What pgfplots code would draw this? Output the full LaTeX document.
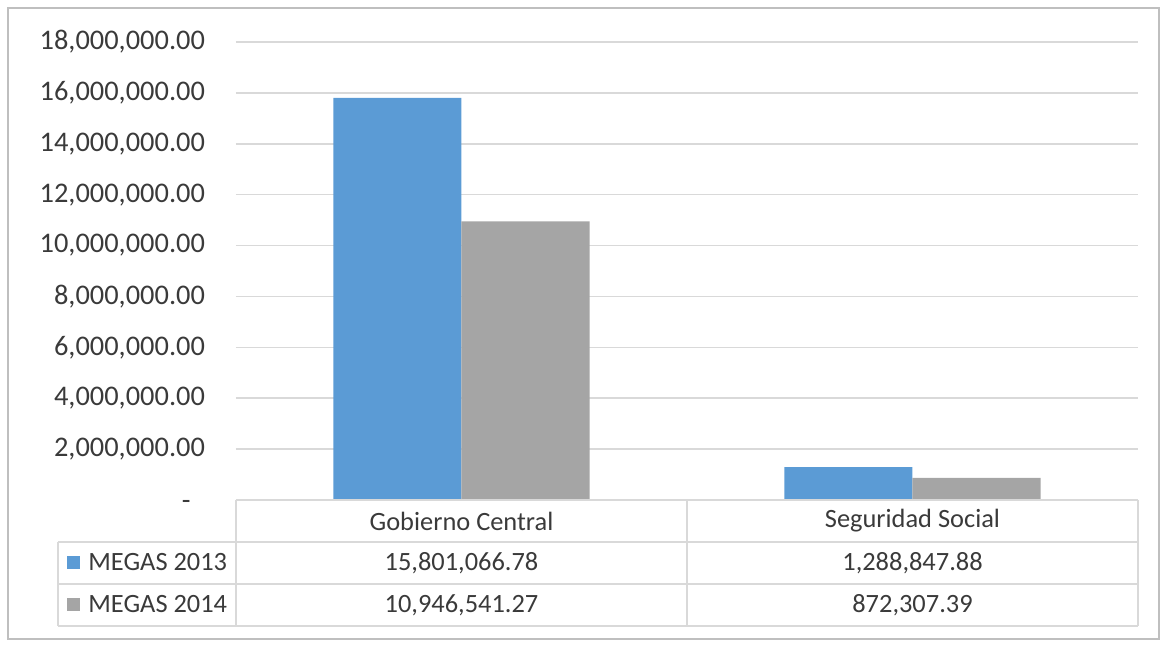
\documentclass[border=0pt]{standalone}
\usepackage{pgfplots}
\pgfplotsset{compat=1.18}
\usepackage{fontspec}
\setmainfont{Carlito}
\definecolor{cblue}{HTML}{5B9BD5}
\definecolor{cgray}{HTML}{A5A5A5}
\definecolor{gridc}{HTML}{D9D9D9}
\definecolor{txt}{HTML}{3A3A3A}
\definecolor{frame}{HTML}{BFBFBF}
\begin{document}
\begin{tikzpicture}[x=0.5pt,y=0.5pt,font=\fontsize{13.2}{15}\selectfont,text=txt]
\useasboundingbox (0,0) rectangle (1164,646);
\draw[frame,line width=1pt] (8,7) rectangle (1159,638);
\begin{axis}[
  at={(118pt,73pt)}, anchor=south west,
  scale only axis, width=451pt, height=229pt,
  xmin=-0.5, xmax=1.5, ymin=0, ymax=18000000,
  ybar=0pt, bar width=0.284,
  axis line style={draw=none},
  xtick=\empty,
  scaled y ticks=false,
  ytick={0,2000000,4000000,6000000,8000000,10000000,12000000,14000000,16000000,18000000},
  yticklabels={{-\phantom{0}},{2,000,000.00},{4,000,000.00},{6,000,000.00},{8,000,000.00},{10,000,000.00},{12,000,000.00},{14,000,000.00},{16,000,000.00},{18,000,000.00}},
  yticklabel style={anchor=east, xshift=-12pt, text=txt, font=\fontsize{14.2}{16}\selectfont},
  major tick length=0pt,
  ymajorgrids, grid style={gridc, line width=0.8pt},
  clip=false,
]
\addplot[fill=cblue, draw=none] coordinates {(0,15801066.78) (1,1288847.88)};
\addplot[fill=cgray, draw=none] coordinates {(0,10946541.27) (1,872307.39)};
\end{axis}
% data table
\begin{scope}[gridc, line width=0.8pt]
\draw (236,146) -- (1138,146);
\draw (58,104) -- (1138,104);
\draw (58,62) -- (1138,62);
\draw (58,20) -- (1138,20);
\draw (58,20) -- (58,104);
\draw (236,20) -- (236,146);
\draw (687,20) -- (687,146);
\draw (1138,20) -- (1138,146);
\end{scope}
\node at (461.5,125) {Gobierno Central};
\node at (912.5,125) {Seguridad Social};
\node at (461.5,83) {15,801,066.78};
\node at (912.5,83) {1,288,847.88};
\node at (461.5,41) {10,946,541.27};
\node at (912.5,41) {872,307.39};
\fill[cblue] (67,77) rectangle (80,90);
\node[anchor=west, inner sep=0pt] at (88,84) {MEGAS 2013};
\fill[cgray] (67,35) rectangle (80,48);
\node[anchor=west, inner sep=0pt] at (88,42) {MEGAS 2014};
\end{tikzpicture}
\end{document}
